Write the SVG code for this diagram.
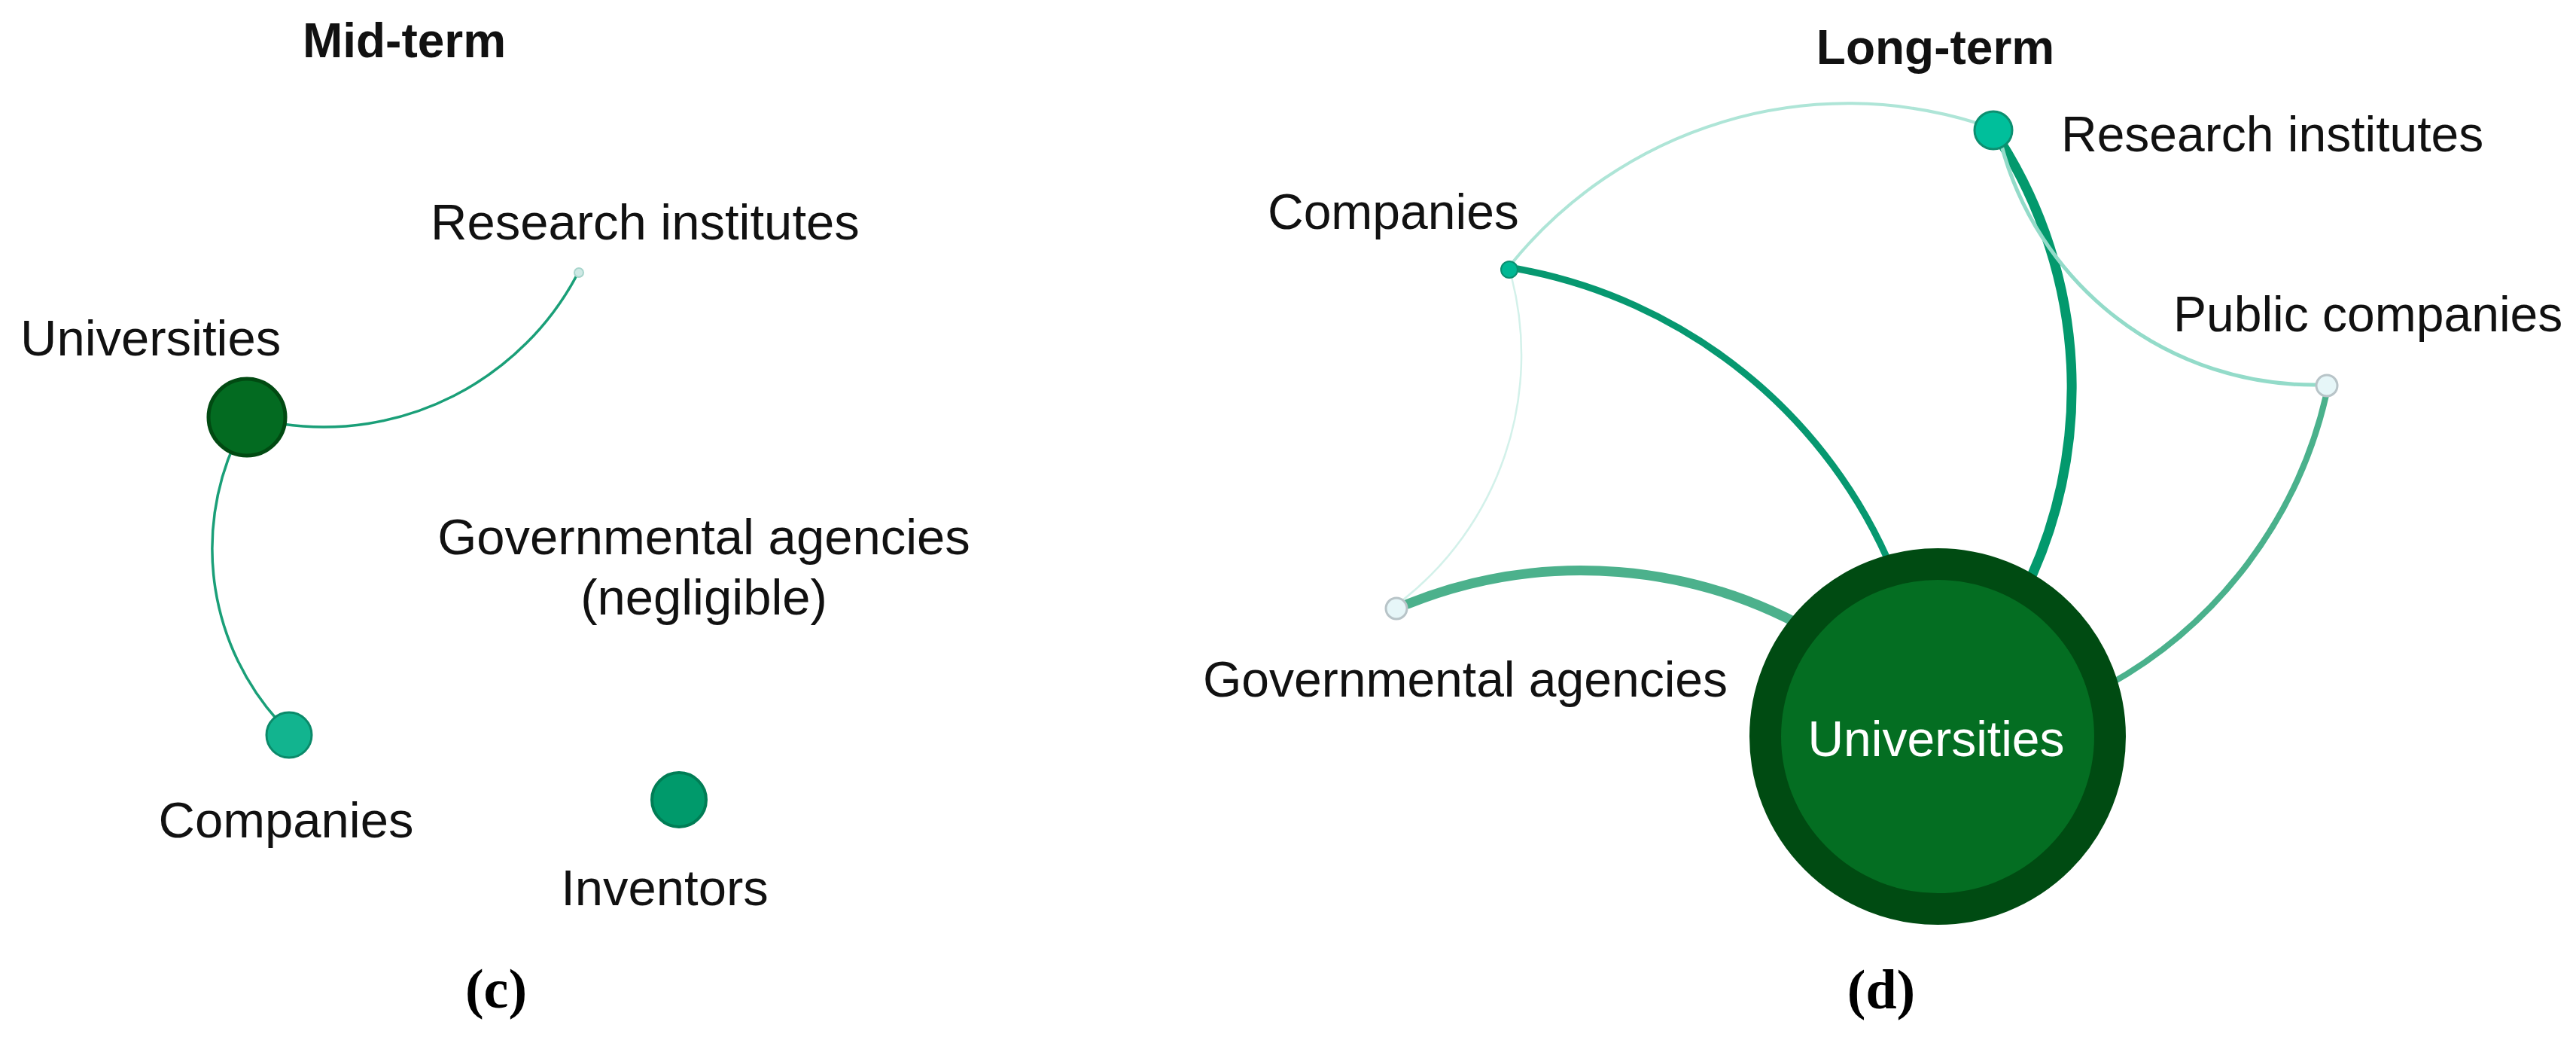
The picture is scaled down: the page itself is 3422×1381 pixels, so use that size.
<svg xmlns="http://www.w3.org/2000/svg" width="3422" height="1381" viewBox="0 0 3422 1381">
<style>
.lbl{font-family:"Liberation Sans",Arial,sans-serif;font-size:67px;fill:#111}
.lbr{font-family:"Liberation Sans",Arial,sans-serif;font-size:66px;fill:#111}
.ttl{font-family:"Liberation Sans",Arial,sans-serif;font-size:64px;font-weight:bold;fill:#111;text-anchor:middle}
.cap{font-family:"Liberation Serif","Times New Roman",serif;font-size:74px;font-weight:bold;fill:#000;text-anchor:middle}
.mid{text-anchor:middle}
.e{fill:none;stroke-linecap:round}
</style>
<rect width="3422" height="1381" fill="#fff"/>
<text class="ttl" x="537" y="76">Mid-term</text>
<text class="ttl" x="2571" y="85">Long-term</text>
<g id="connectors">
  <path class="e" d="M375,563 A381 381 0 0 0 767,364" stroke="#1a9f78" stroke-width="3.5"/>
  <path class="e" d="M312,588 A343 343 0 0 0 370,958" stroke="#1a9f78" stroke-width="3.5"/>
  <path class="e" d="M2008,350 A576 576 0 0 1 2625,163" stroke="#aee5d7" stroke-width="4"/>
  <path class="e" d="M2008,368 A415 415 0 0 1 1862,798" stroke="#d3f1ea" stroke-width="2.5"/>
  <path class="e" d="M2016,357 A670 670 0 0 1 2515,760" stroke="#079870" stroke-width="9"/>
  <path class="e" d="M2657,187 A613 613 0 0 1 2687,790" stroke="#03996d" stroke-width="13"/>
  <path class="e" d="M2658,190 A429 429 0 0 0 3076,511" stroke="#93dbc9" stroke-width="5"/>
  <path class="e" d="M3090,525 A593 593 0 0 1 2800,910" stroke="#4ab18c" stroke-width="8"/>
  <path class="e" d="M1870,802 A621 621 0 0 1 2420,846" stroke="#4cb18c" stroke-width="13"/>
</g>
<g id="node-universities-mid">
  <circle cx="328" cy="554" r="51" fill="#036b21" stroke="#014a12" stroke-width="5"/>
  <text class="lbl" x="27" y="472">Universities</text>
</g>
<g id="node-research-mid">
  <circle cx="769" cy="362" r="6" fill="#cfe9e5" stroke="#a8d5cc" stroke-width="2"/>
  <text class="lbl" x="572" y="318">Research institutes</text>
</g>
<g id="node-companies-mid">
  <circle cx="384" cy="976" r="30" fill="#12b48f" stroke="#0b8a6a" stroke-width="3"/>
  <text class="lbl mid" x="380" y="1112">Companies</text>
</g>
<g id="node-inventors-mid">
  <circle cx="902" cy="1062" r="36" fill="#009a6b" stroke="#007d55" stroke-width="4"/>
  <text class="lbl mid" x="883" y="1202">Inventors</text>
</g>
<g id="node-governmental-mid">
  <text class="lbl mid" x="935" y="736">Governmental agencies</text>
  <text class="lbl mid" x="935" y="816">(negligible)</text>
</g>
<g id="node-research-long">
  <circle cx="2648" cy="173" r="25" fill="#00bf9b" stroke="#0d8f70" stroke-width="3"/>
  <text class="lbr" x="2738" y="201">Research institutes</text>
</g>
<g id="node-companies-long">
  <circle cx="2005" cy="358" r="11" fill="#00b894" stroke="#0a8f70" stroke-width="2"/>
  <text class="lbr" x="1684" y="304">Companies</text>
</g>
<g id="node-public-long">
  <circle cx="3091" cy="512" r="14" fill="#e6f6f8" stroke="#b8c4c8" stroke-width="3"/>
  <text class="lbr" x="2887" y="440">Public companies</text>
</g>
<g id="node-governmental-long">
  <circle cx="1855" cy="808" r="14" fill="#e6f6f8" stroke="#b8c4c8" stroke-width="3"/>
  <text class="lbr" x="1598" y="925">Governmental agencies</text>
</g>
<g id="node-universities-long">
  <circle cx="2574" cy="978" r="229" fill="#046e22" stroke="#004b12" stroke-width="42"/>
  <text class="lbr mid" x="2572" y="1004" style="fill:#fff">Universities</text>
</g>
<text class="cap" x="659" y="1338">(c)</text>
<text class="cap" x="2499" y="1339">(d)</text>
</svg>
